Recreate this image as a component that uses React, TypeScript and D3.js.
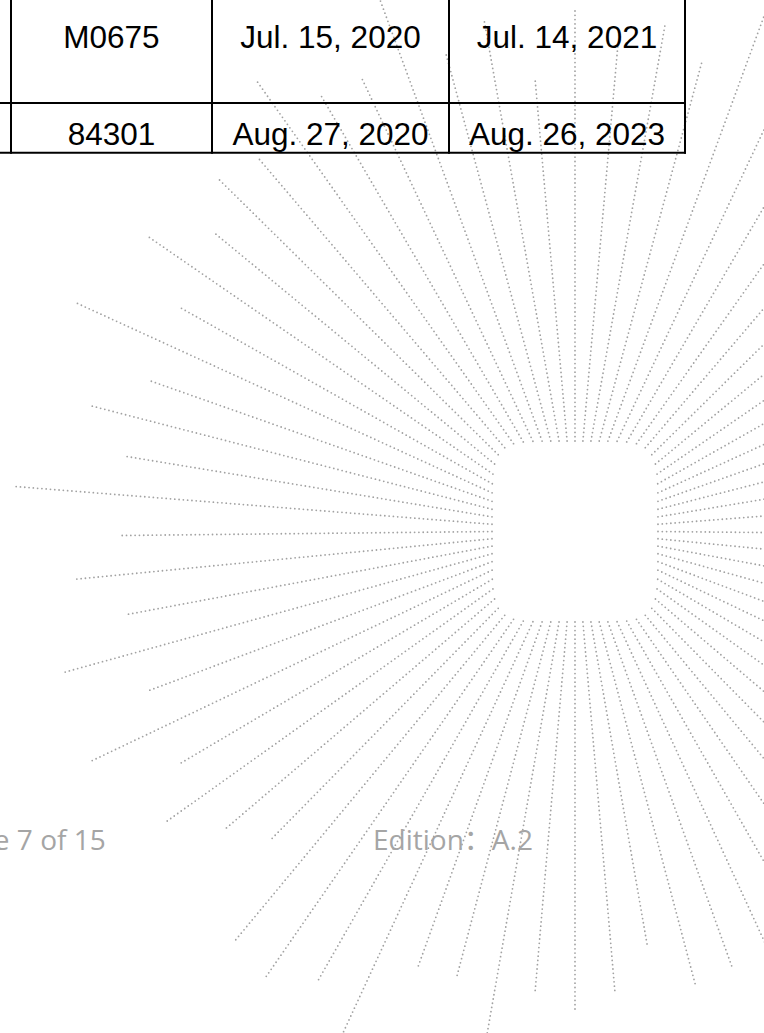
import React from 'react';
import * as d3 from 'd3';

// table rows
const partNumbers = ['M0675', '84301'];
const issueDates = ['Jul. 15, 2020', 'Aug. 27, 2020'];
const expiryDates = ['Jul. 14, 2021', 'Aug. 26, 2023'];

// footer
const pageLabel = 'Page 7 of 15';
const editionLabel = 'Edition\uFF1AA.2';

// sunburst rays: bearing in degrees (0 = up, clockwise) and length from the centre
const rayBearings = [
  0, 5, 10, 15, 20, 25, 30, 35, 40, 45, 50, 55, 60, 65, 70, 75, 80, 85,
  90, 95, 100, 105, 110, 115, 120, 125, 130, 135, 140, 145, 150, 155, 160, 165, 170, 175,
  180, 185, 190, 195, 200, 205, 210, 215, 220, 225, 230, 235, 240, 245, 250, 255, 260, 265,
  270, 275, 280, 285, 290, 295, 300, 305, 310, 315, 320, 325, 330, 335, 340, 345, 350, 355
];
const rayLengths = [
  528, 494, 518, 492, 560, 500, 500, 500, 500, 500, 500, 500, 500, 500, 500, 500, 500, 500,
  500, 500, 500, 500, 500, 500, 500, 500, 500, 500, 500, 500, 500, 460, 458, 464, 416, 458,
  474, 458, 520, 457, 458, 560, 516, 542, 528, 431, 456, 501, 455, 534, 455, 532, 455, 502,
  455, 564, 455, 501, 455, 553, 456, 523, 472, 507, 492, 554, 508, 506, 570, 500, 523, 459
];

const W = 764;
const H = 1033;

const App = () => {
  // burst geometry
  const cx = 575;
  const cy = 535.5;
  const sqCy = 531.5;
  const halfW = 83;
  const halfH = 90.5;
  const n = 6;

  const toRad = d3.scaleLinear().domain([0, 360]).range([0, 2 * Math.PI]);
  const lineGen = d3.line();

  const rays = rayBearings.map((b, i) => {
    const a = toRad(b);
    const [ux, uy] = d3.pointRadial(a, 1);
    // rounded-square (superellipse) inner edge
    const t =
      1 /
      Math.pow(
        Math.pow(Math.abs(ux) / halfW, n) + Math.pow(Math.abs(uy) / halfH, n),
        1 / n
      );
    const start = [cx + ux * t, sqCy + uy * t];
    const [ex, ey] = d3.pointRadial(a, rayLengths[i]);
    return lineGen([start, [cx + ex, cy + ey]]);
  });

  // table layout
  const colEdges = [11, 212, 449, 685];
  const rowLines = [103, 152.7];
  const baselines = [48.3, 145];
  const columns = [partNumbers, issueDates, expiryDates];

  return (
    <svg
      width={W}
      height={H}
      style={{ position: 'absolute', left: 0, top: 0, background: '#fff' }}
    >
      <g className="rays">
        {rays.map((d, i) => (
          <path
            key={i}
            d={d}
            fill="none"
            stroke="#a2a2a2"
            strokeWidth={1.8}
            strokeLinecap="round"
            strokeDasharray="0 4.3"
          />
        ))}
      </g>

      <g className="table">
        {columns.map((col, ci) =>
          col.map((txt, ri) => (
            <text
              key={`${ci}-${ri}`}
              x={(colEdges[ci] + colEdges[ci + 1]) / 2}
              y={baselines[ri]}
              textAnchor="middle"
              fontFamily="'Liberation Sans', Arial, sans-serif"
              fontSize={31.5}
              fill="#000"
            >
              {txt}
            </text>
          ))
        )}
        {rowLines.map((y, i) => (
          <line key={`h${i}`} x1={0} x2={colEdges[3] + 1} y1={y} y2={y} stroke="#000" strokeWidth={2} />
        ))}
        {colEdges.map((x, i) => (
          <line key={`v${i}`} x1={x} x2={x} y1={0} y2={rowLines[1] + 1} stroke="#000" strokeWidth={2} />
        ))}
      </g>

      <g className="footer" fontFamily="'Open Sans', 'Noto Sans CJK SC', sans-serif" fontSize={28} fill="#a5a5a5">
        <text x={105.7} y={850} textAnchor="end">{pageLabel}</text>
        <text x={373} y={850}>{editionLabel}</text>
      </g>
    </svg>
  );
};

export default App;
